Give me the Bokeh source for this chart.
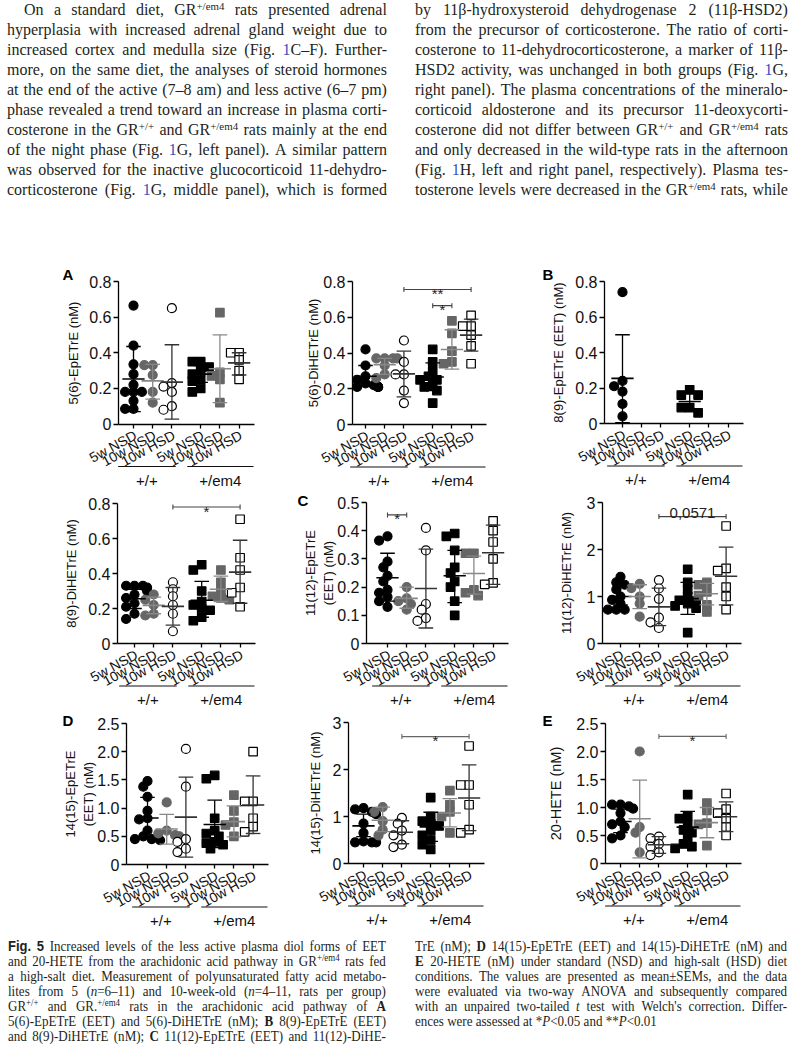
import re
from bokeh.plotting import figure
from bokeh.models import Div, FixedTicker, Label, Range1d, CustomJSTickFormatter
from bokeh.layouts import column, row
from bokeh.embed import file_html
from bokeh.resources import INLINE
from bokeh.core.properties import value

# ---------------------------------------------------------------- data
group_labels = ["5w NSD", "10w NSD", "10w HSD", "5w NSD", "10w NSD", "10w HSD"]
genotype_labels = ["+/+", "+/em4"]

ticks_08 = [0, 0.2, 0.4, 0.6, 0.8]
tick_labels_08 = ["0", "0.2", "0.4", "0.6", "0.8"]
ticks_05 = [0, 0.1, 0.2, 0.3, 0.4, 0.5]
tick_labels_05 = ["0", "0.1", "0.2", "0.3", "0.4", "0.5"]
ticks_3 = [0, 1, 2, 3]
tick_labels_3 = ["0", "1", "2", "3"]
ticks_25 = [0, 0.5, 1.0, 1.5, 2.0, 2.5]
tick_labels_25 = ["0", "0.5", "1.0", "1.5", "2.0", "2.5"]

# A left: 5(6)-EpETrE (nM)
a1_values = [
    [0.665, 0.44, 0.335, 0.28, 0.22, 0.18, 0.18, 0.18, 0.13, 0.085, 0.085],
    [0.33, 0.33, 0.275, 0.18, 0.12],
    [0.65, 0.23, 0.21, 0.18, 0.10, 0.08],
    [0.35, 0.35, 0.32, 0.30, 0.28, 0.25, 0.24, 0.20, 0.18],
    [0.625, 0.29, 0.27, 0.25, 0.12],
    [0.40, 0.40, 0.36, 0.30, 0.25],
]
a1_mean = [0.253, 0.242, 0.235, 0.28, 0.31, 0.343]
a1_low = [0.07, 0.14, 0.027, 0.234, 0.12, 0.275]
a1_high = [0.435, 0.335, 0.445, 0.328, 0.50, 0.40]
a1_brackets = []

# A right: 5(6)-DiHETrE (nM)
a2_values = [
    [0.42, 0.33, 0.27, 0.25, 0.23, 0.22, 0.21, 0.21, 0.21, 0.21],
    [0.37, 0.37, 0.37, 0.37, 0.33, 0.28, 0.26],
    [0.47, 0.35, 0.28, 0.28, 0.19, 0.12],
    [0.42, 0.35, 0.30, 0.27, 0.25, 0.25, 0.22, 0.21, 0.19, 0.12],
    [0.58, 0.51, 0.41, 0.35, 0.34],
    [0.61, 0.55, 0.55, 0.50, 0.44, 0.34],
]
a2_mean = [0.27, 0.335, 0.283, 0.266, 0.42, 0.50]
a2_low = [0.215, 0.28, 0.155, 0.19, 0.31, 0.41]
a2_high = [0.33, 0.37, 0.41, 0.345, 0.53, 0.59]
a2_brackets = [(2, 5, 0.755, "**"), (3, 4, 0.665, "*")]

# B left: 8(9)-EpETrE (EET) (nM)
b1_values = [
    [0.74, 0.24, 0.21, 0.18, 0.11, 0.04],
    [], [],
    [0.19, 0.16, 0.16, 0.09, 0.09, 0.06],
    [], [],
]
b1_mean = [0.254, None, None, 0.124, None, None]
b1_low = [0.005, None, None, 0.07, None, None]
b1_high = [0.50, None, None, 0.175, None, None]
b1_brackets = []

# B right: 8(9)-DiHETrE (nM)
b2_values = [
    [0.33, 0.33, 0.33, 0.32, 0.30, 0.28, 0.26, 0.23, 0.21, 0.17, 0.14],
    [0.28, 0.25, 0.22, 0.17, 0.16],
    [0.35, 0.31, 0.27, 0.22, 0.17, 0.07],
    [0.45, 0.42, 0.30, 0.24, 0.22, 0.20, 0.19, 0.15, 0.13],
    [0.42, 0.35, 0.30, 0.27, 0.26, 0.25],
    [0.71, 0.49, 0.42, 0.32, 0.29, 0.21],
]
b2_mean = [0.256, 0.218, 0.212, 0.247, 0.31, 0.408]
b2_low = [0.20, 0.17, 0.105, 0.15, 0.24, 0.23]
b2_high = [0.31, 0.265, 0.32, 0.355, 0.385, 0.59]
b2_brackets = [(2, 5, 0.78, "*")]

# C left: 11(12)-EpETrE (EET) (nM)
c1_values = [
    [0.38, 0.365, 0.29, 0.27, 0.24, 0.22, 0.19, 0.18, 0.165, 0.15, 0.13],
    [0.20, 0.16, 0.15, 0.14, 0.12],
    [0.41, 0.33, 0.14, 0.12, 0.09, 0.08],
    [0.39, 0.38, 0.33, 0.27, 0.25, 0.22, 0.20, 0.15, 0.10],
    [0.32, 0.32, 0.19, 0.18, 0.17],
    [0.435, 0.40, 0.36, 0.30, 0.215, 0.21],
]
c1_mean = [0.233, 0.16, 0.195, 0.24, 0.248, 0.322]
c1_low = [0.15, 0.125, 0.055, 0.145, 0.175, 0.21]
c1_high = [0.32, 0.20, 0.335, 0.33, 0.31, 0.42]
c1_brackets = [(0, 1, 0.456, "*")]

# C right: 11(12)-DiHETrE (nM)
c2_values = [
    [1.42, 1.30, 1.25, 1.15, 1.0, 0.93, 0.85, 0.72, 0.72, 0.72],
    [1.27, 1.18, 1.0, 0.85, 0.57],
    [1.35, 1.17, 0.95, 0.55, 0.45, 0.33],
    [1.58, 1.30, 1.15, 1.0, 0.92, 0.90, 0.85, 0.80, 0.75, 0.23],
    [1.30, 1.25, 1.10, 1.02, 0.82, 0.67],
    [2.50, 1.60, 1.55, 1.20, 1.0, 0.72],
]
c2_mean = [1.0, 1.0, 0.78, 0.955, 1.06, 1.43]
c2_low = [0.82, 0.74, 0.38, 0.62, 0.82, 0.82]
c2_high = [1.20, 1.25, 1.18, 1.30, 1.28, 2.05]
c2_brackets = [(2, 5, 2.7, "0,0571")]

# D left: 14(15)-EpETrE (EET) (nM)
d1_values = [
    [1.48, 1.38, 1.20, 0.95, 0.82, 0.80, 0.60, 0.50, 0.45, 0.45, 0.43],
    [1.10, 0.60, 0.55, 0.52, 0.50],
    [2.05, 1.38, 0.45, 0.40, 0.28, 0.22],
    [1.58, 1.52, 0.82, 0.60, 0.55, 0.50, 0.40, 0.38, 0.35, 0.28],
    [1.23, 0.95, 0.75, 0.70, 0.50],
    [2.0, 1.12, 1.12, 0.82, 0.67, 0.58],
]
d1_mean = [0.825, 0.63, 0.84, 0.71, 0.76, 1.055]
d1_low = [0.48, 0.36, 0.13, 0.30, 0.49, 0.55]
d1_high = [1.19, 0.89, 1.55, 1.14, 1.04, 1.57]
d1_brackets = []

# D right: 14(15)-DiHETrE (nM)
d2_values = [
    [1.18, 1.15, 1.10, 1.05, 0.85, 0.65, 0.47, 0.45, 0.45, 0.45],
    [1.20, 1.10, 0.90, 0.72, 0.60],
    [0.97, 0.85, 0.70, 0.60, 0.40, 0.35],
    [1.40, 1.0, 0.90, 0.85, 0.80, 0.70, 0.60, 0.50, 0.40, 0.30],
    [1.55, 1.25, 1.10, 1.0, 0.65],
    [2.50, 1.67, 1.67, 1.25, 0.72, 0.65],
]
d2_mean = [0.80, 0.92, 0.665, 0.78, 1.075, 1.395]
d2_low = [0.57, 0.68, 0.42, 0.47, 0.78, 0.70]
d2_high = [1.05, 1.20, 0.91, 1.09, 1.38, 2.10]
d2_brackets = [(2, 5, 2.7, "*")]

# E: 20-HETE (nM)
e1_values = [
    [1.05, 1.05, 1.02, 0.98, 0.90, 0.75, 0.70, 0.65, 0.50, 0.45],
    [2.0, 0.65, 0.55, 0.20],
    [0.48, 0.45, 0.35, 0.30, 0.20, 0.15],
    [1.23, 0.85, 0.80, 0.70, 0.60, 0.55, 0.45, 0.35, 0.30, 0.27],
    [1.08, 0.95, 0.72, 0.70, 0.32],
    [1.25, 0.97, 0.90, 0.80, 0.65, 0.50],
]
e1_mean = [0.75, 0.80, 0.335, 0.65, 0.73, 0.835]
e1_low = [0.55, 0.10, 0.18, 0.37, 0.46, 0.57]
e1_high = [0.97, 1.49, 0.48, 0.93, 1.00, 1.10]
e1_brackets = [(2, 5, 2.27, "*")]

# ---------------------------------------------------------------- styles
SANS = "Liberation Sans"
UNIT = 19.2                       # px per category step
POS = [0, 1, 2, 3.5, 4.5, 5.5]    # category slots (gap between genotypes)
MARKERS = ["circle", "circle", "circle", "square", "square", "square"]
SIZES = [9, 9, 9, 8.5, 8.5, 8.5]
FILL = ["black", "#666666", "white", "black", "#666666", "white"]
EDGE = ["black", "#666666", "black", "black", "#666666", "black"]
ERR = ["black", "#888888", "#333333", "black", "#888888", "#333333"]


def tick_fmt(vals, labs):
    return CustomJSTickFormatter(
        args=dict(vals=list(vals), labs=list(labs)),
        code="for (let j = 0; j < vals.length; j++) { if (Math.abs(vals[j] - tick) < 1e-6) return labs[j]; } return '';")


def swarm(vals, ppu):
    placed, offs = [], [0.0] * len(vals)
    order = sorted(range(len(vals)), key=lambda k: -vals[k])
    for k in order:
        ypx = vals[k] * ppu
        dx = 0.0
        for c in [0, -1, 1, -2, 2, -3, 3]:
            dx = c * 4.2
            if all((dx - px) ** 2 + (ypx - py) ** 2 >= 6.8 ** 2 for px, py in placed):
                break
        placed.append((dx, ypx))
        offs[k] = dx / UNIT
    return offs


def panel(fig_left, fig_top, fig_w, fig_h, axis_abs, first_abs, top_abs, zero_abs,
          yticks, ylabs, ylabel, ylab_size, ylab_off, vals, means, lows, highs,
          brackets, letter=None, br_color="#444444"):
    top_px = top_abs - fig_top
    zero_px = zero_abs - fig_top
    ymax = yticks[-1]
    ppu = (zero_px - top_px) / ymax
    y1 = ymax + top_px / ppu
    y0 = -(fig_h - zero_px) / ppu
    x0 = -(first_abs - fig_left) / UNIT
    x1 = x0 + fig_w / UNIT
    xaxis_at = -(first_abs - axis_abs) / UNIT
    p = figure(width=fig_w, height=fig_h, x_range=Range1d(x0, x1), y_range=Range1d(y0, y1),
               output_backend="svg", toolbar_location=None,
               min_border_left=0, min_border_right=0, min_border_top=0, min_border_bottom=0)
    p.outline_line_color = None
    p.grid.visible = False
    p.background_fill_color = None
    p.border_fill_color = None

    # y axis (placed inside the frame at its own x position)
    ya = p.yaxis[0]
    ya.fixed_location = xaxis_at
    ya.ticker = FixedTicker(ticks=yticks)
    ya.formatter = tick_fmt(yticks, ylabs)
    ya.bounds = (0, ymax)
    ya.axis_line_width = 1.3
    ya.major_tick_line_width = 1.3
    ya.major_tick_in = 0
    ya.major_tick_out = 5
    ya.minor_tick_out = 0
    ya.minor_tick_in = 0
    ya.major_label_standoff = 2
    ya.major_label_text_font = SANS
    ya.major_label_text_font_size = "16px"
    ya.major_label_text_color = "#111111"
    ya.axis_label = ylabel
    ya.axis_label_text_font = SANS
    ya.axis_label_text_font_style = "normal"
    ya.axis_label_text_font_size = ylab_size
    ya.axis_label_text_color = "#111111"
    ya.axis_label_standoff = ylab_off

    # x axis sitting on y = 0
    xa = p.xaxis[0]
    xa.fixed_location = 0
    xa.ticker = FixedTicker(ticks=POS)
    xa.formatter = CustomJSTickFormatter(code="return '';")
    xa.bounds = (xaxis_at, POS[-1] + 0.8)
    xa.axis_line_width = 1.3
    xa.major_tick_line_width = 1.3
    xa.major_tick_in = 0
    xa.major_tick_out = 4
    xa.minor_tick_out = 0
    xa.minor_tick_in = 0
    # slanted category names, right end at the tick
    p.text(x=POS, y=[0] * 6, text=group_labels, angle=0.5, text_align="right",
           text_baseline="middle", x_offset=2, y_offset=10, text_font=value(SANS),
           text_font_size="14px", text_color="#111111")

    # points
    for g in range(6):
        if not vals[g]:
            continue
        offs = swarm(vals[g], ppu)
        xs = [POS[g] + o for o in offs]
        p.scatter(x=xs, y=vals[g], marker=MARKERS[g], size=SIZES[g],
                  fill_color=FILL[g], line_color=EDGE[g], line_width=1.2)
    # mean +- error
    for g in range(6):
        if means[g] is None:
            continue
        c = ERR[g]
        p.segment(x0=[POS[g]], y0=[lows[g]], x1=[POS[g]], y1=[highs[g]], line_color=c, line_width=1.3)
        p.segment(x0=[POS[g] - 0.38] * 2, y0=[lows[g], highs[g]], x1=[POS[g] + 0.38] * 2,
                  y1=[lows[g], highs[g]], line_color=c, line_width=1.3)
        p.segment(x0=[POS[g] - 0.58], y0=[means[g]], x1=[POS[g] + 0.58], y1=[means[g]],
                  line_color=c, line_width=1.6)

    # genotype group lines and labels
    gy = -42.5 / ppu
    gx0 = [POS[0] - 0.8, POS[3] - 0.7]
    gx1 = [POS[2] + 0.2, POS[5] + 0.75]
    p.segment(x0=gx0, y0=[gy, gy], x1=gx1, y1=[gy, gy], line_color="#111111", line_width=1.2)
    p.text(x=[(a + b) / 2 for a, b in zip(gx0, gx1)], y=[-56 / ppu] * 2, text=genotype_labels,
           text_align="center", text_baseline="alphabetic", text_font=value(SANS),
           text_font_size="15px", text_color="#111111")

    # significance brackets
    for (i, j, yb, txt) in brackets:
        h = 2.5 / ppu
        p.segment(x0=[POS[i]], y0=[yb], x1=[POS[j]], y1=[yb], line_color=br_color, line_width=1.1)
        p.segment(x0=[POS[i], POS[j]], y0=[yb - h] * 2, x1=[POS[i], POS[j]], y1=[yb + h] * 2,
                  line_color=br_color, line_width=1.1)
        stars = set(txt) == {"*"}
        ty = yb - 4 / ppu if stars else yb + 4 / ppu
        p.text(x=[(POS[i] + POS[j]) / 2], y=[ty], text=[txt], text_align="center",
               text_baseline="alphabetic", text_font=value(SANS), text_font_size="15px",
               text_color="#222222")

    if letter is not None:
        t, lx, lyb = letter
        p.add_layout(Label(x=x0 + (lx - fig_left) / UNIT, y=y1 - (lyb - fig_top) / ppu, text=t,
                           text_font=SANS, text_font_style="bold", text_font_size="15px",
                           text_align="left", text_baseline="alphabetic", text_color="black"))
    return p


TOP_H = 258
R1_TOP, R1_H = 258, 230
R2_TOP, R2_H = 488, 220
R3_TOP, R3_H = 708, 222
CAP_H = 130
C1_L, C1_W = 0, 280
C2_L, C2_W = 280, 245
C3_L, C3_W = 525, 274

fA1 = panel(C1_L, R1_TOP, C1_W, R1_H, 118, 133, 281, 423.5, ticks_08, tick_labels_08,
            "5(6)-EpETrE (nM)", "13px", 5, a1_values, a1_mean, a1_low, a1_high, a1_brackets,
            ("A", 62, 274))
fA2 = panel(C2_L, R1_TOP, C2_W, R1_H, 352, 365, 281, 424, ticks_08, tick_labels_08,
            "5(6)-DiHETrE (nM)", "13px", -1, a2_values, a2_mean, a2_low, a2_high, a2_brackets)
fB1 = panel(C3_L, R1_TOP, C3_W, R1_H, 604, 622, 281, 423, ticks_08, tick_labels_08,
            "8(9)-EpETrE (EET) (nM)", "13px", 6, b1_values, b1_mean, b1_low, b1_high, b1_brackets,
            ("B", 542, 274))

fB2 = panel(C1_L, R2_TOP, C1_W, R2_H, 117, 134, 503, 643, ticks_08, tick_labels_08,
            "8(9)-DiHETrE (nM)", "13px", 6, b2_values, b2_mean, b2_low, b2_high, b2_brackets)
fC1 = panel(C2_L, R2_TOP, C2_W, R2_H, 366, 387, 502, 643, ticks_05, tick_labels_05,
            "11(12)-EpETrE\n(EET) (nM)", "13px", -2, c1_values, c1_mean, c1_low, c1_high, c1_brackets,
            ("C", 297, 500))
fC2 = panel(C3_L, R2_TOP, C3_W, R2_H, 602, 620, 502, 643, ticks_3, tick_labels_3,
            "11(12)-DiHETrE (nM)", "13px", 10, c2_values, c2_mean, c2_low, c2_high, c2_brackets)

fD1 = panel(C1_L, R3_TOP, C1_W, R3_H, 126, 147, 723, 864, ticks_25, tick_labels_25,
            "14(15)-EpETrE\n(EET) (nM)", "13px", -2, d1_values, d1_mean, d1_low, d1_high, d1_brackets,
            ("D", 62, 720))
fD2 = panel(C2_L, R3_TOP, C2_W, R3_H, 348, 363, 722, 863, ticks_3, tick_labels_3,
            "14(15)-DiHETrE (nM)", "13px", 7, d2_values, d2_mean, d2_low, d2_high, d2_brackets,
            None, "#666666")
fE1 = panel(C3_L, R3_TOP, C3_W, R3_H, 605, 620, 723, 863, ticks_25, tick_labels_25,
            "20-HETE (nM)", "14.5px", 9, e1_values, e1_mean, e1_low, e1_high, e1_brackets,
            ("E", 542, 720), "#666666")

# ---------------------------------------------------------------- text blocks
def conv(tok):
    tok = re.sub(r"\^\{([^}]*)\}", r'<span style="font-size:0.68em;position:relative;top:-0.45em;">\1</span>', tok)
    tok = re.sub(r"\{b:([^}]*)\}", r"<b>\1</b>", tok)
    tok = re.sub(r"\{i:([^}]*)\}", r"<i>\1</i>", tok)
    tok = re.sub(r"\{c:([^}]*)\}", r'<span style="color:#3a4fc0;">\1</span>', tok)
    tok = re.sub(r"\{s:([^}]*)\}", r'<span style="font-family:&quot;Liberation Sans&quot;;font-weight:bold;">\1</span>', tok)
    return tok


def jline(text, lh, indent=0, justify=True):
    words = [conv(w) for w in text.split(" ")]
    if justify:
        spans = "".join('<span style="white-space:nowrap;">%s</span>' % w for w in words)
        return ('<div style="display:flex;justify-content:space-between;height:%dpx;line-height:%dpx;'
                'padding-left:%dpx;">%s</div>' % (lh, lh, indent, spans))
    return ('<div style="height:%dpx;line-height:%dpx;white-space:nowrap;">%s</div>'
            % (lh, lh, "&nbsp;".join(words)))


body_left = [
    "On a standard diet, GR^{+/em4} rats presented adrenal",
    "hyperplasia with increased adrenal gland weight due to",
    "increased cortex and medulla size (Fig. {c:1}C–F). Further-",
    "more, on the same diet, the analyses of steroid hormones",
    "at the end of the active (7–8 am) and less active (6–7 pm)",
    "phase revealed a trend toward an increase in plasma corti-",
    "costerone in the GR^{+/+} and GR^{+/em4} rats mainly at the end",
    "of the night phase (Fig. {c:1}G, left panel). A similar pattern",
    "was observed for the inactive glucocorticoid 11-dehydro-",
    "corticosterone (Fig. {c:1}G, middle panel), which is formed",
]
body_right = [
    "by 11β-hydroxysteroid dehydrogenase 2 (11β-HSD2)",
    "from the precursor of corticosterone. The ratio of corti-",
    "costerone to 11-dehydrocorticosterone, a marker of 11β-",
    "HSD2 activity, was unchanged in both groups (Fig. {c:1}G,",
    "right panel). The plasma concentrations of the mineralo-",
    "corticoid aldosterone and its precursor 11-deoxycorti-",
    "costerone did not differ between GR^{+/+} and GR^{+/em4} rats",
    "and only decreased in the wild-type rats in the afternoon",
    "(Fig. {c:1}H, left and right panel, respectively). Plasma tes-",
    "tosterone levels were decreased in the GR^{+/em4} rats, while",
]
caption_left = [
    "{s:Fig.} {s:5} Increased levels of the less active plasma diol forms of EET",
    "and 20-HETE from the arachidonic acid pathway in GR^{+/em4} rats fed",
    "a high-salt diet. Measurement of polyunsaturated fatty acid metabo-",
    "lites from 5 ({i:n}=6–11) and 10-week-old ({i:n}=4–11, rats per group)",
    "GR^{+/+} and GR.^{+/em4} rats in the arachidonic acid pathway of {b:A}",
    "5(6)-EpETrE (EET) and 5(6)-DiHETrE (nM); {b:B} 8(9)-EpETrE (EET)",
    "and 8(9)-DiHETrE (nM); {b:C} 11(12)-EpETrE (EET) and 11(12)-DiHE-",
]
caption_right = [
    "TrE (nM); {b:D} 14(15)-EpETrE (EET) and 14(15)-DiHETrE (nM) and",
    "{b:E} 20-HETE (nM) under standard (NSD) and high-salt (HSD) diet",
    "conditions. The values are presented as mean±SEMs, and the data",
    "were evaluated via two-way ANOVA and subsequently compared",
    "with an unpaired two-tailed {i:t} test with Welch's correction. Differ-",
    "ences were assessed at *{i:P}&lt;0.05 and **{i:P}&lt;0.01",
]

bl_html = "".join(jline(t, 20, 17 if k == 0 else 0) for k, t in enumerate(body_left))
br_html = "".join(jline(t, 20) for t in body_right)
top_html = (
    '<div style="position:relative;width:799px;height:%dpx;font-family:&quot;Liberation Serif&quot;;'
    'font-size:16px;color:#231f20;">'
    '<div style="position:absolute;left:7px;top:0px;width:380px;">%s</div>'
    '<div style="position:absolute;left:415px;top:0px;width:373px;">%s</div></div>' % (TOP_H, bl_html, br_html))

cl_html = "".join(jline(t, 15) for t in caption_left)
cr_html = "".join(jline(t, 15, 0, k < len(caption_right) - 1) for k, t in enumerate(caption_right))
cap_html = (
    '<div style="position:relative;width:799px;height:%dpx;font-family:&quot;Liberation Serif&quot;;'
    'font-size:15.5px;color:#231f20;">'
    '<div style="position:absolute;left:8px;top:8px;width:450px;transform:scaleX(0.84);transform-origin:0 0;">%s</div>'
    '<div style="position:absolute;left:415px;top:8px;width:443px;transform:scaleX(0.84);transform-origin:0 0;">%s</div>'
    '</div>' % (CAP_H, cl_html, cr_html))

div_top = Div(text=top_html, width=799, height=TOP_H, margin=(0, 0, 0, 0))
div_cap = Div(text=cap_html, width=799, height=CAP_H, margin=(0, 0, 0, 0))

page = column(div_top,
              row(fA1, fA2, fB1),
              row(fB2, fC1, fC2),
              row(fD1, fD2, fE1),
              div_cap)

open("out.html", "w").write(file_html(page, INLINE))
